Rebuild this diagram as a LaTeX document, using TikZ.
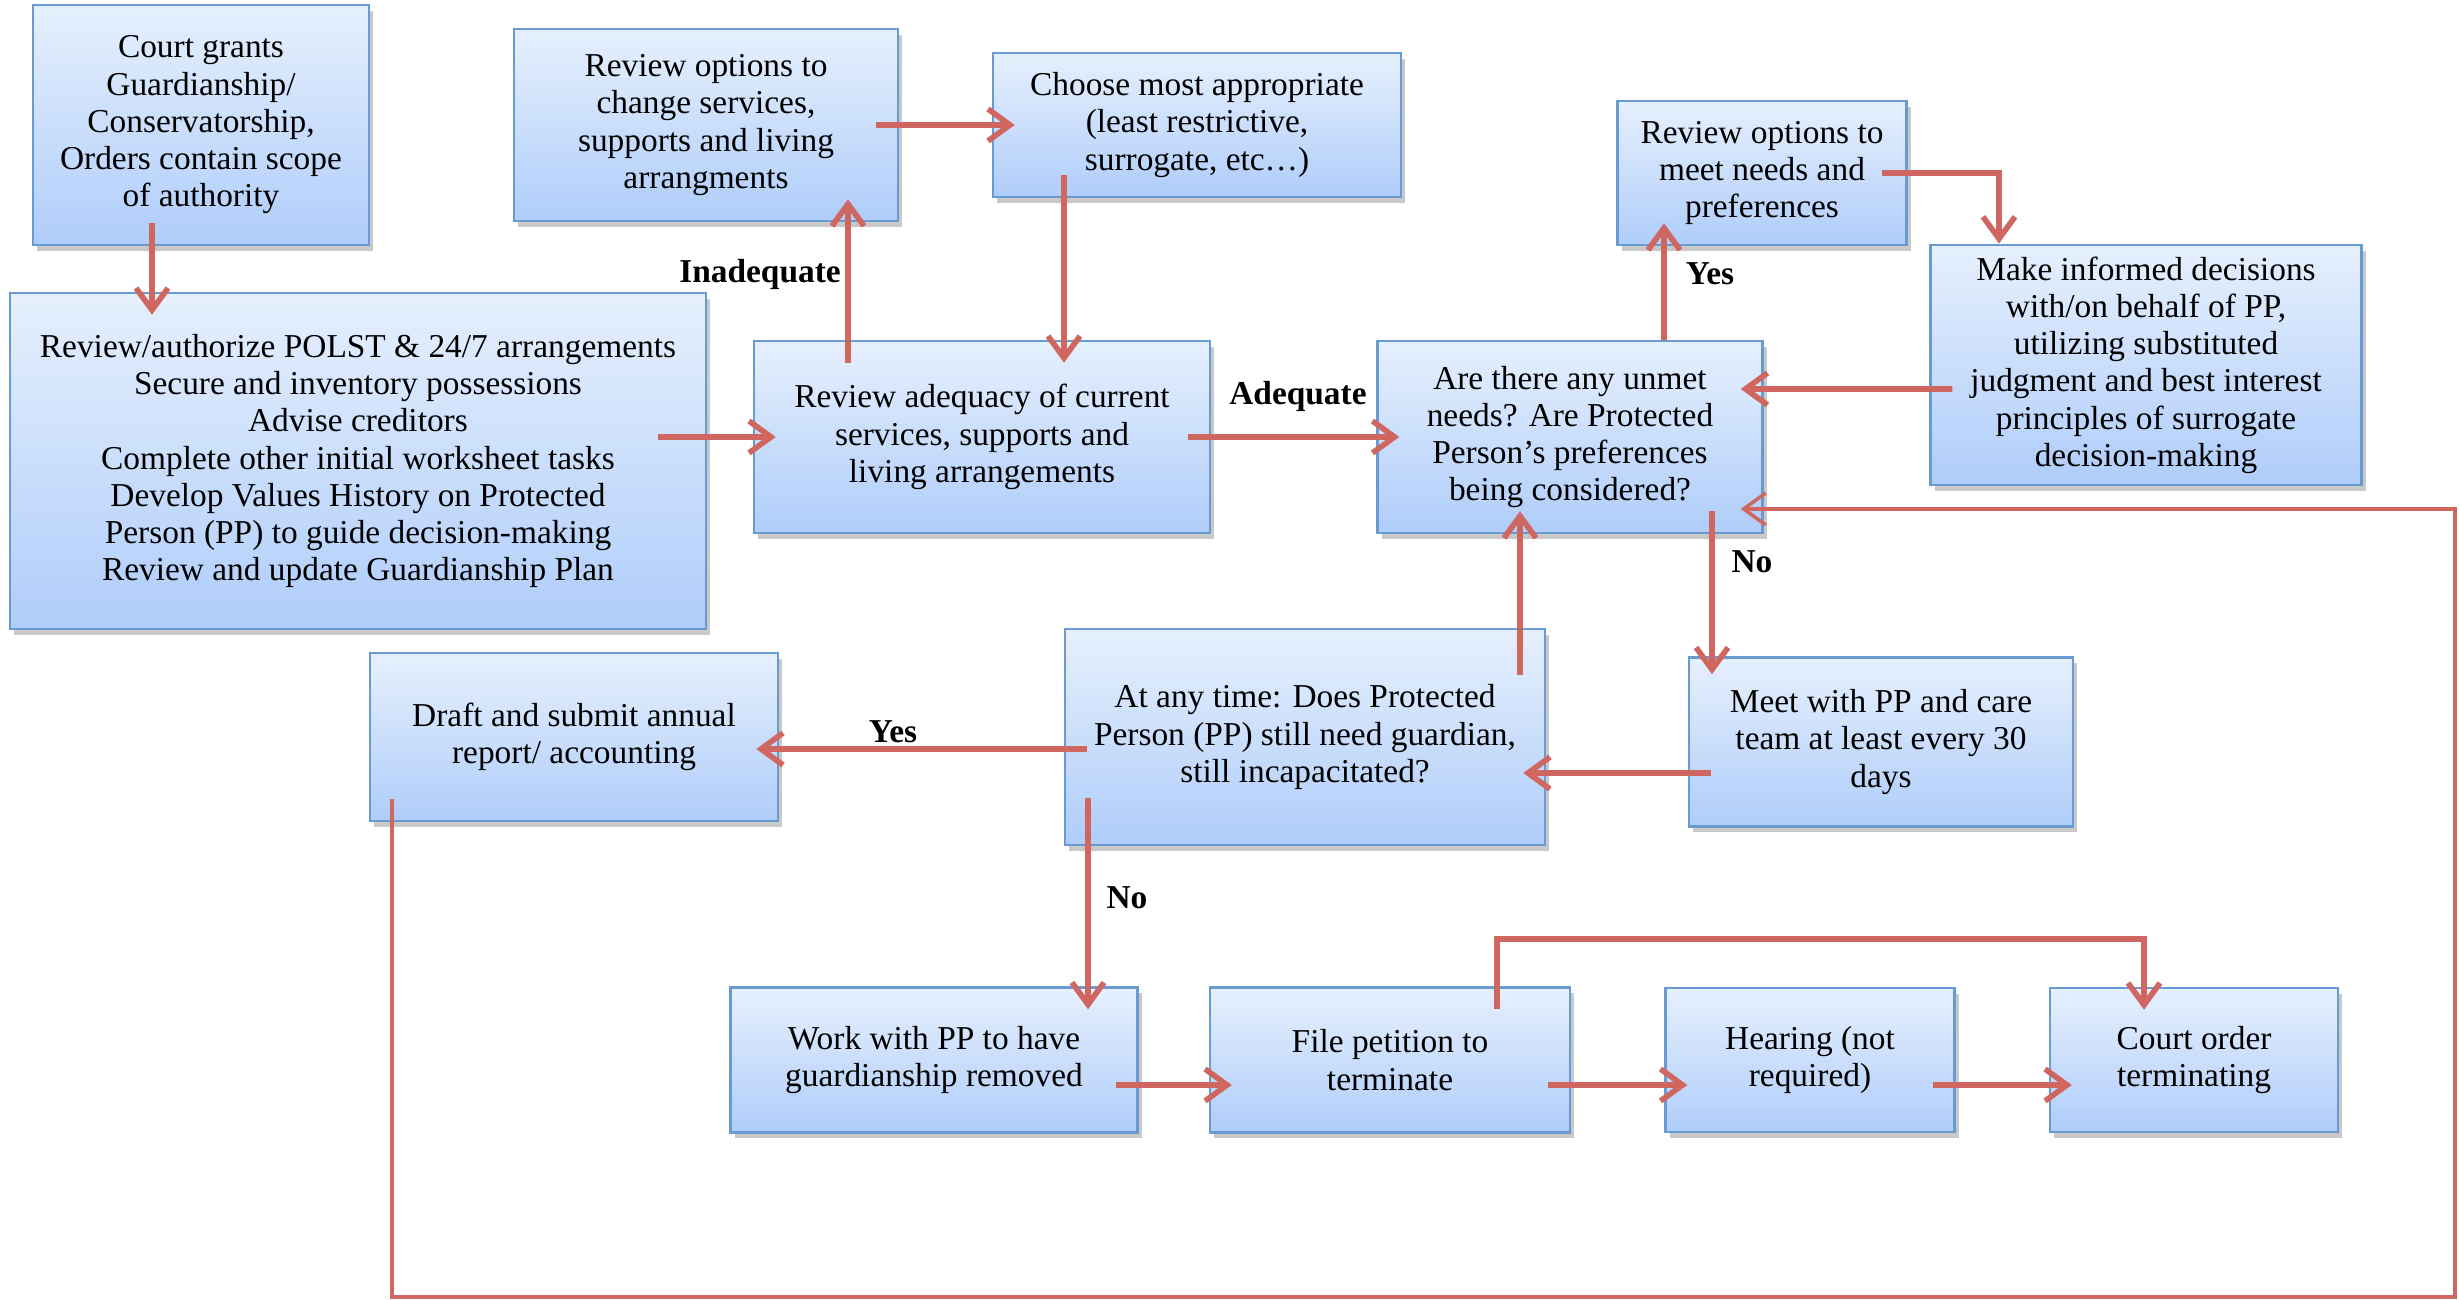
\documentclass[tikz,border=0pt]{standalone}
\usepackage{fontspec}
\setmainfont{Liberation Serif}
\usepackage{tikz}
\usetikzlibrary{arrows.meta}
\usetikzlibrary{shadows}

\definecolor{boxtop}{HTML}{E6F0FD}
\definecolor{boxbot}{HTML}{AFCDFA}
\definecolor{boxline}{HTML}{6A9AD2}
\definecolor{arrred}{HTML}{CF6760}

\begin{document}
\begin{tikzpicture}[
    every node/.style={font=\fontsize{9.5}{10.6}\selectfont, align=center},
    box/.style={draw=boxline, line width=0.7pt, top color=boxtop, bottom color=boxbot,
                drop shadow={shadow xshift=0.4mm, shadow yshift=-0.6mm, opacity=0.3, fill=black!70}},
    arr/.style={draw=arrred, line width=1.6pt, -{Straight Barb[length=2.2mm, width=3.2mm]},
                shorten <=-2.3mm, shorten >=-2.3mm},
    lbl/.style={font=\fontsize{9.5}{10.6}\selectfont\bfseries}]
            \useasboundingbox (0,0) rectangle (24.59,-13);

            % Cajas
            \node[box, minimum width=3.36cm, minimum height=2.4cm] (court) at (2.01,-1.25) {Court grants\\Guardianship/\\Conservatorship,\\Orders contain scope\\of authority};
            \node[box, minimum width=6.96cm, minimum height=3.36cm] (init) at (3.58,-4.61) {Review/authorize POLST \& 24/7 arrangements\\Secure and inventory possessions\\Advise creditors\\Complete other initial worksheet tasks\\Develop Values History on Protected\\Person (PP) to guide decision-making\\Review and update Guardianship Plan};
            \node[box, minimum width=3.84cm, minimum height=1.92cm] (chgopt) at (7.06,-1.25) {Review options to\\change services,\\supports and living\\arrangments};
            \node[box, minimum width=4.08cm, minimum height=1.44cm] (choose) at (11.97,-1.25) {Choose most appropriate\\(least restrictive,\\surrogate, etc…)};
            \node[box, minimum width=4.56cm, minimum height=1.92cm] (adeq) at (9.82,-4.37) {Review adequacy of current\\services, supports and\\living arrangements};
            \node[box, minimum width=3.85cm, minimum height=1.92cm] (unmet) at (15.70,-4.37) {Are there any unmet\\needs? Are Protected\\Person’s preferences\\being considered?};
            \node[box, minimum width=2.89cm, minimum height=1.44cm] (needopt) at (17.62,-1.73) {Review options to\\meet needs and\\preferences};
            \node[box, minimum width=4.31cm, minimum height=2.4cm] (decide) at (21.46,-3.65) {Make informed decisions\\with/on behalf of PP,\\utilizing substituted\\judgment and best interest\\principles of surrogate\\decision-making};
            \node[box, minimum width=4.8cm, minimum height=2.16cm] (anytime) at (13.05,-7.37) {At any time: Does Protected\\Person (PP) still need guardian,\\still incapacitated?};
            \node[box, minimum width=3.84cm, minimum height=1.69cm] (meet) at (18.81,-7.42) {Meet with PP and care\\team at least every 30\\days};
            \node[box, minimum width=4.08cm, minimum height=1.68cm] (report) at (5.74,-7.37) {Draft and submit annual\\report/ accounting};
            \node[box, minimum width=4.07cm, minimum height=1.45cm] (work) at (9.34,-10.60) {Work with PP to have\\guardianship removed};
            \node[box, minimum width=3.6cm, minimum height=1.45cm] (petition) at (13.90,-10.60) {File petition to\\terminate};
            \node[box, minimum width=2.89cm, minimum height=1.44cm] (hearing) at (18.10,-10.60) {Hearing (not\\required)};
            \node[box, minimum width=2.88cm, minimum height=1.44cm] (order) at (21.94,-10.60) {Court order\\terminating};

            % Etiquetas
            \node[lbl] (inad) at (7.60,-2.74) {Inadequate};
            \node[lbl] (adq) at (12.98,-3.96) {Adequate};
            \node[lbl] (yesup) at (17.10,-2.74) {Yes};
            \node[lbl] (noup) at (17.52,-5.62) {No};
            \node[lbl] (yeslow) at (8.93,-7.32) {Yes};
            \node[lbl] (nolow) at (11.27,-8.98) {No};
            \coordinate (corner) at (24.55,-12.97);

            % Flechas
            \draw[arr] ([xshift=-4.9mm]court.south) -- ([xshift=-20.6mm]init.north);
            \draw[arr, shorten <=-4.9mm] ([yshift=2.4mm]init.east) -- (adeq.west);
            \draw[arr] ([xshift=-13.4mm]adeq.north) -- ([xshift=14.2mm]chgopt.south);
            \draw[arr] (chgopt.east) -- (choose.west);
            \draw[arr] ([xshift=-13.3mm]choose.south) -- ([xshift=8.2mm]adeq.north);
            \draw[arr] (adeq.east) -- (unmet.west);
            \draw[arr, shorten <=0pt] ([xshift=9.4mm]unmet.north) -- ([xshift=-9.8mm]needopt.south);
            \draw[arr, shorten <=-2.6mm, shorten >=0pt] (needopt.east) -| ([xshift=-14.7mm]decide.north);
            \draw[arr] ([yshift=-2.4mm]decide.west) -- ([yshift=4.8mm]unmet.east);
            \draw[arr, shorten >=-1.8mm] ([xshift=14.2mm]unmet.south) -- ([xshift=-16.9mm]meet.north);
            \draw[arr] ([yshift=-3.1mm]meet.west) -- ([yshift=-3.6mm]anytime.east);
            \draw[arr, shorten <=-4.7mm] ([xshift=21.5mm]anytime.north) -- ([xshift=-5mm]unmet.south);
            \draw[arr] ([yshift=-1.2mm]anytime.west) -- ([yshift=-1.2mm]report.east);
            \draw[arr, shorten <=-4.8mm] ([xshift=-21.7mm]anytime.south) -- ([xshift=15.4mm]work.north);
            \draw[arr] ([yshift=-2.5mm]work.east) -- ([yshift=-2.5mm]petition.west);
            \draw[arr] ([yshift=-2.5mm]petition.east) -- ([yshift=-2.5mm]hearing.west);
            \draw[arr] ([yshift=-2.5mm]hearing.east) -- ([yshift=-2.5mm]order.west);
            \draw[arr] ([xshift=10.7mm]petition.north) -- ++(0,4.7mm) -| ([xshift=-5mm]order.north);
            \draw[arr, line width=1pt] ([xshift=-18.2mm]report.south) |- (corner) |- ([yshift=-7.2mm]unmet.east);
\end{tikzpicture}
\end{document}
